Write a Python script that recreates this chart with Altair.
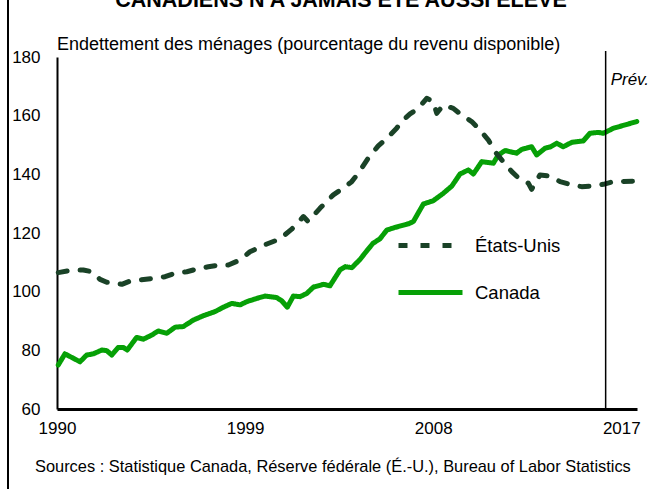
import altair as alt
import pandas as pd

# ---- Data (decimal year, % of disposable income) ----
can_t = [1990.06, 1990.38, 1990.78, 1991.10, 1991.42, 1991.74, 1992.14, 1992.38, 1992.62, 1992.93,
         1993.17, 1993.36, 1993.81, 1994.13, 1994.53, 1994.85, 1995.25, 1995.65, 1996.04, 1996.52,
         1997.00, 1997.56, 1997.96, 1998.36, 1998.76, 1999.08, 1999.56, 1999.95, 2000.51, 2000.75,
         2001.02, 2001.31, 2001.63, 2001.95, 2002.26, 2002.74, 2003.06, 2003.54, 2003.78, 2004.11,
         2004.50, 2004.83, 2005.12, 2005.45, 2005.78, 2006.17, 2006.81, 2007.05, 2007.53, 2008.00,
         2008.48, 2008.89, 2009.28, 2009.68, 2009.92, 2010.32, 2010.88, 2011.11, 2011.44, 2011.99,
         2012.23, 2012.71, 2012.95, 2013.35, 2013.59, 2013.91, 2014.22, 2014.63, 2015.18, 2015.50,
         2015.90, 2016.14, 2016.62, 2017.74]
can_v = [75.0, 78.8, 77.3, 76.1, 78.4, 78.8, 80.1, 79.9, 78.4, 81.0,
         81.0, 80.1, 84.4, 83.8, 85.2, 86.6, 85.8, 87.9, 88.1, 90.3,
         91.8, 93.2, 94.7, 96.0, 95.5, 96.6, 97.7, 98.5, 98.0, 96.9,
         94.7, 98.5, 98.3, 99.4, 101.5, 102.5, 102.0, 107.4, 108.5, 108.2,
         111.0, 114.0, 116.5, 118.0, 121.0, 121.9, 123.1, 123.9, 129.9, 131.0,
         133.5, 136.0, 140.1, 141.5, 140.1, 144.3, 143.8, 146.6, 148.1, 147.2,
         148.5, 149.4, 146.6, 148.9, 149.3, 150.6, 149.4, 150.9, 151.4, 154.0,
         154.3, 154.0, 155.7, 158.0]

us_t = [1990.06, 1990.62, 1991.26, 1991.66, 1992.06, 1992.38, 1992.62, 1993.10, 1993.49, 1993.97,
        1994.61, 1995.17, 1995.65, 1996.21, 1996.68, 1997.24, 1997.80, 1998.20, 1998.76, 1999.23,
        1999.95, 2000.67, 2001.23, 2001.79, 2002.02, 2002.58, 2003.22, 2003.62, 2004.10, 2004.42,
        2004.89, 2005.37, 2005.78, 2006.25, 2006.49, 2006.89, 2007.29, 2007.69, 2008.00, 2008.17,
        2008.48, 2008.96, 2009.36, 2009.84, 2010.16, 2010.64, 2010.96, 2011.35, 2011.76, 2012.15,
        2012.55, 2012.71, 2012.87, 2013.11, 2013.59, 2014.07, 2014.63, 2015.10, 2015.58, 2016.14,
        2016.62, 2017.74]
us_v = [106.5, 107.2, 107.4, 106.8, 104.2, 103.2, 103.1, 102.5, 103.6, 104.0,
        104.5, 105.1, 106.3, 106.8, 107.7, 108.5, 109.1, 109.1, 110.8, 113.6,
        116.0, 118.0, 121.3, 125.6, 123.9, 128.4, 133.0, 134.9, 137.5, 140.4,
        145.5, 149.7, 152.3, 155.7, 158.0, 160.6, 162.5, 165.9, 164.8, 160.8,
        163.6, 162.5, 160.2, 158.0, 155.7, 151.7, 147.7, 144.3, 140.9, 138.3,
        137.0, 134.9, 137.0, 139.8, 139.4, 137.5, 136.4, 135.8, 136.0, 136.6,
        137.5, 137.7]

series_names = ["États-Unis", "Canada"]
x_ticks = [1990, 1999, 2008, 2017]
y_ticks = [60, 80, 100, 120, 140, 160, 180]
forecast_start = [2016.25]

title_txt = "CANADIENS N'A JAMAIS ÉTÉ AUSSI ÉLEVÉ"
ytitle_txt = "Endettement des ménages (pourcentage du revenu disponible)"
source_txt = "Sources : Statistique Canada, Réserve fédérale (É.-U.), Bureau of Labor Statistics"
prev_txt = "Prév."

rows = [{"t": t, "v": v, "serie": "Canada"} for t, v in zip(can_t, can_v)]
rows += [{"t": t, "v": v, "serie": "États-Unis"} for t, v in zip(us_t, us_v)]
df = pd.DataFrame(rows)

FONT = "Liberation Sans"
DARK = "#1a4227"
GREEN = "#06a006"
W, H = 580, 352
PL, PT = 57, 57

xenc = alt.X("t:Q", scale=alt.Scale(domain=[1990, 2017.75], nice=False, zero=False),
             axis=alt.Axis(values=x_ticks, format="d", title=None, ticks=False, grid=False,
                           labelFontSize=17, labelPadding=11, domainWidth=3, domainColor="black",
                           labelColor="black", labelFont=FONT, labelFlush=False))
yenc = alt.Y("v:Q", scale=alt.Scale(domain=[60, 180], nice=False, zero=False),
             axis=alt.Axis(values=y_ticks, title=None, ticks=False, grid=False,
                           labelFontSize=17, labelPadding=17, domainWidth=2, domainColor="black",
                           labelColor="black", labelFont=FONT))

lines = alt.Chart(df).mark_line(strokeWidth=5, strokeCap="round", strokeJoin="round").encode(
    x=xenc, y=yenc,
    color=alt.Color("serie:N", scale=alt.Scale(domain=series_names, range=[DARK, GREEN]), title=None),
    strokeDash=alt.StrokeDash("serie:N", scale=alt.Scale(domain=series_names, range=[[9, 13], [1, 0]]), title=None),
    order=alt.Order("t:Q"),
)

rule = alt.Chart(pd.DataFrame({"t": forecast_start})).mark_rule(color="black", strokeWidth=1.5).encode(
    x=alt.X("t:Q"), y=alt.value(-6), y2=alt.value(H))

prev = alt.Chart(pd.DataFrame({"t": forecast_start, "label": [prev_txt]})).mark_text(
    align="left", baseline="middle", dx=5, font=FONT, fontSize=17, fontStyle="italic", color="black").encode(
    x=alt.X("t:Q"), y=alt.value(23), text="label:N")

ytitle = alt.Chart(pd.DataFrame({"label": [ytitle_txt]})).mark_text(
    align="left", baseline="middle", font=FONT, fontSize=18, color="black").encode(
    x=alt.value(0), y=alt.value(-12), text="label:N")

source = alt.Chart(pd.DataFrame({"label": [source_txt]})).mark_text(
    align="left", baseline="middle", font=FONT, fontSize=16.4, color="black").encode(
    x=alt.value(35 - PL), y=alt.value(467 - PT), text="label:N")

title = alt.Chart(pd.DataFrame({"label": [title_txt]})).mark_text(
    align="center", baseline="alphabetic", font=FONT, fontSize=21.5, fontWeight="bold", color="black").encode(
    x=alt.value(341 - PL), y=alt.value(7 - PT), text="label:N")

frame = alt.Chart(pd.DataFrame({"label": ["frame"]})).mark_rule(color="black", strokeWidth=2).encode(
    x=alt.value(8 - PL), y=alt.value(-PT), y2=alt.value(489 - PT))

chart = alt.layer(lines, rule, prev, ytitle, source, title, frame).properties(
    width=W, height=H,
    padding={"left": PL, "top": PT, "right": 666 - PL - W, "bottom": 489 - PT - H},
    autosize=alt.AutoSizeParams(type="none"),
    background="white",
).configure_view(stroke=None).configure_legend(
    orient="none", legendX=339, legendY=154, symbolType="stroke", symbolSize=4096,
    symbolStrokeWidth=5, labelFontSize=18.5, labelFont=FONT, labelColor="black",
    rowPadding=2, labelOffset=10, titleFontSize=0,
)

chart.save("out.html", embed_options={"renderer": "svg", "actions": False})
